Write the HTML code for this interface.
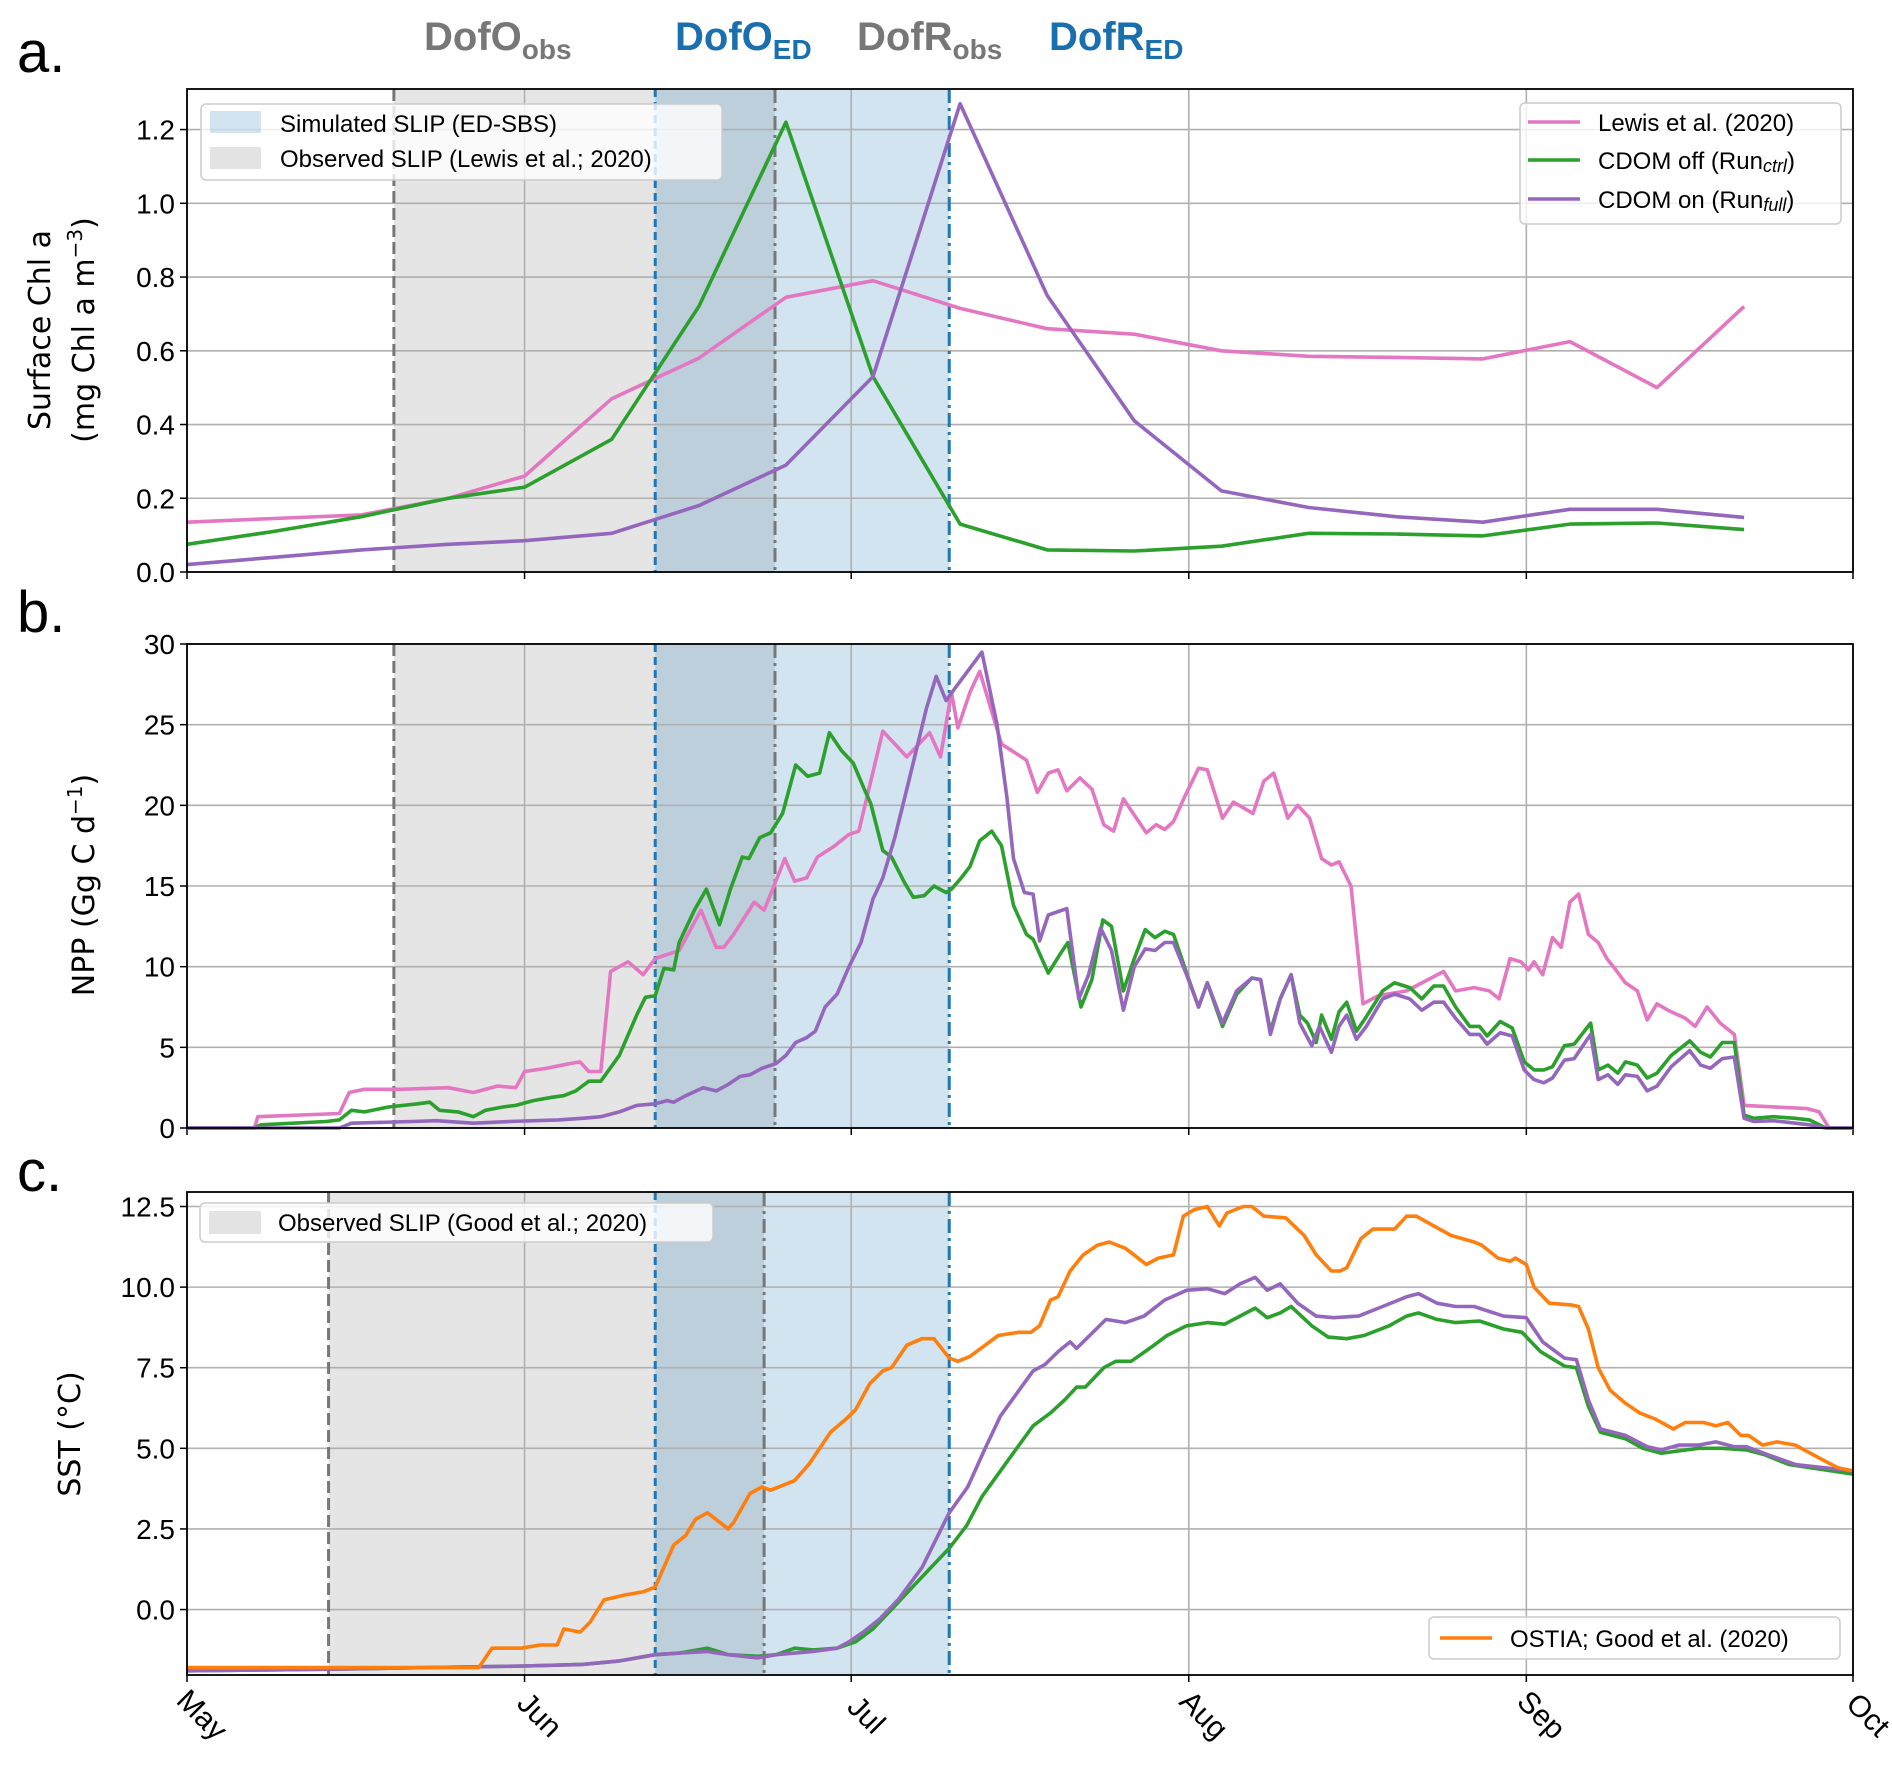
<!DOCTYPE html>
<html><head><meta charset="utf-8"><style>
body{margin:0;background:#fff}
svg{display:block}
.tk{font-family:"Liberation Sans Narrow","Liberation Sans",sans-serif;font-size:28px;fill:#000}
.lg{font-family:"Liberation Sans Narrow","Liberation Sans",sans-serif;font-size:24px;fill:#000}
.yl{font-family:"DejaVu Sans","Liberation Sans",sans-serif;font-size:30px;fill:#000}
.toplab{font-family:"Liberation Sans Narrow","Liberation Sans",sans-serif;font-weight:bold;font-size:40px}
</style></head><body>
<svg id="fig" width="1892" height="1766" viewBox="0 0 1892 1766" xmlns="http://www.w3.org/2000/svg"></svg>
<script>
// ---- data (x = days since 1 May) ----
const monthLabels=["May","Jun","Jul","Aug","Sep","Oct"];
const monthDays=[0,31,61,92,123,153];
const dofOobs=19, dofOed=43, dofRobs=54, dofRed=70, dofOobsC=13, dofRobsC=53;
const chlTicks=[0,0.2,0.4,0.6,0.8,1.0,1.2];
const nppTicks=[0,5,10,15,20,25,30];
const sstTicks=[0,2.5,5,7.5,10,12.5];
const chlDays=[0,8,16,24,31,39,47,55,63,71,79,87,95,103,111,119,127,135,143];
const chlLewis=[.135,.145,.155,.20,.26,.47,.58,.745,.79,.715,.66,.645,.60,.585,.582,.578,.625,.50,.72];
const chlCtrl=[.075,.11,.15,.20,.23,.36,.72,1.22,.53,.13,.06,.057,.07,.105,.103,.098,.13,.133,.115];
const chlFull=[.02,.04,.06,.075,.085,.105,.18,.29,.53,1.27,.75,.41,.22,.175,.15,.135,.17,.17,.148];
const nppLewisD=[0,6.2,6.5,14,14.9,16.3,19.6,24,26.3,28.5,30.2,31,33,35.2,36.1,36.9,38,38.9,40.5,41.9,43,45.2,47.2,48.6,49.3,50.2,52.1,53,53.9,54.9,55.8,56.9,57.9,59.5,60.8,61.7,63.9,66.1,68.2,69.2,70.2,70.8,71.9,72.8,74.8,77.1,78.1,79.1,80,80.8,82,83.1,84.2,85.1,86,86.9,88.1,89,89.8,90.6,91.6,92.9,93.7,95.1,96.1,97.9,98.9,99.8,101.1,102,103.1,104.2,105.1,105.8,106.9,108,109.4,112,115.4,116.5,118.2,119.6,120.5,121.5,122.5,123.2,123.7,124.5,125.4,126.2,127,127.8,128.7,129.6,130.4,131,132.1,133.2,134.1,135,136,137.6,138.5,139.6,140.8,142.1,143,148.8,149.9,150.8,153];
const nppLewisV=[0,0,0.7,0.9,2.2,2.4,2.4,2.5,2.2,2.6,2.5,3.5,3.7,4.0,4.1,3.5,3.5,9.7,10.3,9.5,10.5,11,13.5,11.2,11.2,12,14,13.5,15,16.7,15.3,15.5,16.8,17.5,18.2,18.4,24.6,23,24.5,23,27,24.8,27,28.3,23.8,22.8,20.8,22,22.2,20.9,21.7,21,18.8,18.4,20.4,19.5,18.3,18.8,18.5,19,20.5,22.3,22.2,19.2,20.2,19.5,21.5,22,19.2,20,19.2,16.7,16.3,16.5,15,7.7,8.2,8.5,9.7,8.5,8.7,8.5,8,10.5,10.3,9.8,10.3,9.5,11.8,11.2,14,14.5,12,11.5,10.5,10,9,8.5,6.7,7.7,7.3,6.8,6.3,7.5,6.5,5.8,1.4,1.2,1.0,0,0];
const nppCtrlD=[0,6.2,6.8,12.8,14,15.1,16.3,18.5,21.2,22.3,23.2,24.9,26.3,27.4,29,30.2,31.8,33.5,34.6,35.7,36.9,38,39.7,41.3,42.1,43,43.8,44.7,45.2,46.6,47.7,48.9,49.9,51,51.6,52.6,53.6,54.7,55.9,57,58.1,59,60.1,61.2,62.2,62.8,63.9,64.7,65.9,66.7,67.7,68.6,69.7,70.2,71.1,71.9,72.8,73.9,74.8,75.9,77.1,77.7,79.1,80.2,80.9,82.1,83.1,84.1,84.9,86,87,88,88.9,89.8,90.6,91.8,92.9,93.7,95.1,96.4,97.8,98.6,99.5,100.4,101.4,102.2,102.9,103.7,104.2,105.1,105.8,106.5,107.4,108.3,109.8,110.9,112.3,113.4,114.5,115.4,116.5,117.8,118.7,119.4,120.6,121.7,122.8,123.7,124.6,125.4,126.5,127.4,128.9,129.6,130.5,131.4,132.1,133.2,134.1,135,136.3,138,139,139.9,141,142.1,143,143.9,145.7,147.7,149,150.5,153];
const nppCtrlV=[0,0,0.2,0.4,0.5,1.1,1.0,1.3,1.5,1.6,1.1,1.0,0.7,1.1,1.3,1.4,1.7,1.9,2.0,2.3,2.9,2.9,4.5,7,8.1,8.2,9.9,9.8,11.5,13.5,14.8,12.6,14.8,16.8,16.7,18,18.3,19.5,22.5,21.8,22,24.5,23.4,22.6,21,20.1,17.2,16.8,15.2,14.3,14.4,15,14.6,14.8,15.5,16.2,17.8,18.4,17.5,13.8,12,11.7,9.6,10.8,11.5,7.5,9.2,12.9,12.5,8.5,10.5,12.3,11.8,12.2,12,9.6,7.5,9,6.3,8.3,9.3,9.2,6,8,9.5,7,6.5,5.3,7,5.5,7.2,7.8,6,6.9,8.5,9,8.7,8,8.8,8.8,7.5,6.3,6.3,5.7,6.6,6.2,4.1,3.6,3.6,3.8,5.1,5.2,6.5,3.6,3.9,3.4,4.1,3.9,3.1,3.4,4.5,5.4,4.7,4.4,5.3,5.3,0.8,0.6,0.7,0.6,0.5,0,0];
const nppFullD=[0,14,15.1,20.7,22.9,26.3,29.6,34.1,36.3,38,39.7,41.3,43,44.1,44.7,45.8,47.4,48.6,49.7,50.8,51.7,52.8,54.1,55,55.9,56.9,57.7,58.6,59.7,60.8,61.9,63,63.9,65,66.1,67,67.9,68.8,69.7,70.8,73,74.4,75.3,75.9,76.9,77.7,78.3,79.1,80.8,81.9,82.8,83.9,84.9,86,87,88,88.9,89.8,90.6,91.8,92.9,93.7,95.1,96.4,97.8,98.6,99.5,100.4,101.4,102.2,103.3,104,105.1,105.8,106.5,107.4,108.3,109.8,110.9,112.3,113.4,114.5,115.4,116.5,117.8,118.7,119.4,120.6,121.7,122.8,123.7,124.6,125.4,126.5,127.4,128.9,129.6,130.5,131.4,132.1,133.2,134.1,135,136.3,138,139,139.9,141,142.1,143,143.9,145.7,147.7,149,150.5,153];
const nppFullV=[0,0,0.3,0.4,0.45,0.3,0.4,0.5,0.6,0.7,1.0,1.4,1.5,1.7,1.6,2.0,2.5,2.3,2.7,3.2,3.3,3.7,4.0,4.5,5.3,5.6,6,7.5,8.3,10,11.5,14.2,15.5,18,21,23.5,26,28,26.5,27.5,29.5,25,20.5,16.7,14.6,14.5,11.6,13.2,13.6,8.0,9.5,12.4,11,7.3,10,11.1,11,11.5,11.5,9.5,7.5,9,6.5,8.5,9.3,9.2,5.8,8,9.5,6.5,5.1,6.3,4.7,6.3,7,5.5,6.3,8,8.3,8,7.3,7.8,7.8,6.8,5.8,5.8,5.2,5.9,5.7,3.6,3.0,2.8,3.1,4.2,4.3,5.8,3.0,3.3,2.7,3.3,3.2,2.3,2.6,3.8,4.8,3.9,3.7,4.3,4.4,0.6,0.4,0.45,0.3,0.2,0,0];
const sstObsD=[0,26.8,28,30.7,32.4,34,34.6,36.1,37,38.3,40.2,41.9,43,44.7,45.8,46.7,47.8,49.7,50.2,51.7,52.8,53.6,54.7,55.8,57.1,59.1,60.5,61.4,62.7,63.9,64.7,66.1,67.5,68.6,70,70.8,71.9,73.3,74.5,76.4,77.5,78.3,79.3,80,81.1,82.3,83.6,84.7,86.2,88.1,89.2,90.6,91.5,92.5,93.7,94.8,95.5,97,97.8,98.9,100.9,102.6,103.7,105.1,105.9,106.5,107.8,108.9,110.9,112,112.9,114.5,116.1,118.2,118.9,120.4,121.5,122,123,123.7,125.1,127.1,127.8,128.7,129.6,130.7,132.1,133.4,134.9,136.5,137.6,139.3,140.4,141.5,142.7,143.4,144.7,146,147.7,149.9,151.6,153];
const sstObsV=[-1.8,-1.8,-1.2,-1.2,-1.1,-1.1,-0.6,-0.7,-0.4,0.3,0.45,0.55,0.7,2.0,2.3,2.8,3.0,2.5,2.7,3.6,3.8,3.7,3.85,4.0,4.5,5.5,5.9,6.2,7.0,7.4,7.5,8.2,8.4,8.4,7.8,7.7,7.85,8.2,8.5,8.6,8.6,8.8,9.6,9.7,10.5,11,11.3,11.4,11.2,10.7,10.9,11.0,12.2,12.4,12.5,11.9,12.3,12.5,12.5,12.2,12.15,11.6,11.0,10.5,10.5,10.6,11.5,11.8,11.8,12.2,12.2,11.9,11.6,11.4,11.3,10.9,10.8,10.9,10.7,10,9.5,9.45,9.4,8.7,7.5,6.8,6.4,6.1,5.9,5.6,5.8,5.8,5.7,5.8,5.4,5.4,5.1,5.2,5.1,4.7,4.4,4.3];
const sstCtrlD=[0,13,31,36.3,39.6,43,45.2,47.8,49.7,52.4,54.1,55.8,57.5,59.7,61.4,63,64.7,66.9,70,71.6,73,74.7,76.2,77.7,79.3,80.6,81.7,82.5,84.2,85.3,86.7,88.4,90,91.8,93.7,95.3,96.7,98.1,99.2,100.4,101.4,103.3,104.8,106.5,108.1,110.4,112,113.1,114.8,116.5,118.7,120.9,122.6,124.3,126.5,127.6,128.7,129.8,132.1,133.7,135.4,136.5,138.8,141,143.2,144.9,147.1,153];
const sstCtrlV=[-1.9,-1.85,-1.75,-1.7,-1.6,-1.4,-1.35,-1.2,-1.4,-1.45,-1.4,-1.2,-1.25,-1.2,-1.0,-0.6,0.0,0.8,1.9,2.6,3.5,4.3,5.0,5.7,6.1,6.5,6.9,6.9,7.5,7.7,7.7,8.1,8.5,8.8,8.9,8.85,9.1,9.35,9.05,9.2,9.4,8.8,8.45,8.4,8.5,8.8,9.1,9.2,9.0,8.9,8.95,8.7,8.6,8.0,7.55,7.5,6.3,5.5,5.3,5.0,4.85,4.9,5.0,5.0,4.95,4.8,4.5,4.2];
const sstFullD=[0,13,31,36.3,39.6,43,45.2,47.8,49.7,52.4,54.1,55.8,57.5,59.7,60.8,62.1,63.6,65.3,67.5,70,71.7,73.3,74.7,76.2,77.7,78.8,80,81.1,81.7,82.9,84.4,86.2,87.9,89.8,91.8,93.7,95.3,96.7,98.1,99.2,100.4,102,103.7,105.3,107.6,109.8,112,113.1,114.8,116.5,118.2,120.9,123,124.5,126.5,127.6,128.7,129.8,132.1,134.1,135.4,137,138.8,140.4,142.1,143.2,145.2,147.7,153];
const sstFullV=[-1.9,-1.85,-1.75,-1.7,-1.6,-1.4,-1.35,-1.3,-1.4,-1.5,-1.4,-1.35,-1.3,-1.2,-1.0,-0.7,-0.3,0.3,1.3,3.0,3.8,5.0,6.0,6.7,7.4,7.6,8.0,8.3,8.1,8.5,9.0,8.9,9.1,9.6,9.9,9.95,9.8,10.1,10.3,9.9,10.1,9.5,9.1,9.05,9.1,9.4,9.7,9.8,9.5,9.4,9.4,9.1,9.05,8.3,7.8,7.75,6.5,5.6,5.4,5.05,4.95,5.1,5.1,5.2,5.05,5.05,4.8,4.5,4.3];

const NS="http://www.w3.org/2000/svg";
const svg=document.getElementById('fig');
function el(tag,parent){const e=document.createElementNS(NS,tag);(parent||svg).appendChild(e);return e;}
const X0=187,X1=1853;
function xs(d){return X0+(X1-X0)*d/153;}
const panels={
 a:{top:89,bot:572,min:0,max:1.31},
 b:{top:644,bot:1128,min:0,max:30},
 c:{top:1192,bot:1675,min:-2.03,max:12.95}
};
function ysF(p){return v=>p.bot-(p.bot-p.top)*(v-p.min)/(p.max-p.min);}

function rect(g,x,y,w,h,fill){const r=el('rect',g);r.setAttribute('x',x);r.setAttribute('y',y);r.setAttribute('width',w);r.setAttribute('height',h);r.setAttribute('fill',fill);return r;}
function line(g,x1,y1,x2,y2,stroke,w,dash){const l=el('line',g);l.setAttribute('x1',x1);l.setAttribute('y1',y1);l.setAttribute('x2',x2);l.setAttribute('y2',y2);l.setAttribute('stroke',stroke);l.setAttribute('stroke-width',w);if(dash)l.setAttribute('stroke-dasharray',dash);return l;}
function text(g,x,y,s,cls,anchor){const t=el('text',g);t.setAttribute('x',x);t.setAttribute('y',y);t.setAttribute('class',cls);if(anchor)t.setAttribute('text-anchor',anchor);t.textContent=s;return t;}

function drawPanel(key,ticks,fmt,obsStart,obsEnd){
 const p=panels[key], ys=ysF(p);
 const g=el('g');
 
 
 const gs=rect(g,xs(obsStart),p.top,xs(obsEnd)-xs(obsStart),p.bot-p.top,'#e5e5e5');
 
 
 const bs=rect(g,xs(dofOed),p.top,xs(dofRed)-xs(dofOed),p.bot-p.top,'rgba(31,119,180,0.2)');
 
 
 ticks.forEach(t=>{const l=line(g,X0,ys(t),X1,ys(t),'#b0b0b0',1.6);
  
  });
 monthDays.forEach(d=>{const l=line(g,xs(d),p.top,xs(d),p.bot,'#b0b0b0',1.6);
  
  });
 const v1=line(g,xs(obsStart),p.top,xs(obsStart),p.bot,'#777',3,'12,5');
 
 
 const v2=line(g,xs(dofOed),p.top,xs(dofOed),p.bot,'#1f77b4',3,'8,5');
 
 
 const v3=line(g,xs(obsEnd),p.top,xs(obsEnd),p.bot,'#777',3,'14,5,3,5');
 
 
 const v4=line(g,xs(dofRed),p.top,xs(dofRed),p.bot,'#1f77b4',3,'14,5,3,5');
 
 
 ticks.forEach(t=>{line(g,X0-7,ys(t),X0,ys(t),'#000',1.5);
  const tt=text(g,X0-12,ys(t)+10,fmt(t),'tk','end');
  
  });
 monthDays.forEach(d=>line(g,xs(d),p.bot,xs(d),p.bot+7,'#000',1.5));
 return {g,ys,p};
}
function series(P,days,vals,color,name){
 const n=Math.min(days.length,vals.length);
 const pts=[];
 for(let i=0;i<n;i++){pts.push(xs(days[i]).toFixed(1)+','+P.ys(vals[i]).toFixed(1));}
 const pl=el('polyline',P.g);
 pl.setAttribute('points',pts.join(' '));
 pl.setAttribute('fill','none');pl.setAttribute('stroke',color);pl.setAttribute('stroke-width',3.6);
 pl.setAttribute('stroke-linejoin','round');
 
 
}
function frame(P){const r=el('rect',P.g);r.setAttribute('x',X0);r.setAttribute('y',P.p.top);r.setAttribute('width',X1-X0);r.setAttribute('height',P.p.bot-P.p.top);r.setAttribute('fill','none');r.setAttribute('stroke','#000');r.setAttribute('stroke-width',1.8);
 
 }

const PINK='#e377c2',GREEN='#2ca02c',PURP='#9467bd',ORNG='#ff7f0e';
const A=drawPanel('a',chlTicks,t=>t.toFixed(1),dofOobs,dofRobs);
series(A,chlDays,chlLewis,PINK,'chl-lewis-line');
series(A,chlDays,chlCtrl,GREEN,'chl-cdom-off-line');
series(A,chlDays,chlFull,PURP,'chl-cdom-on-line');
frame(A);
const B=drawPanel('b',nppTicks,t=>String(t),dofOobs,dofRobs);
series(B,nppLewisD,nppLewisV,PINK,'npp-lewis-line');
series(B,nppCtrlD,nppCtrlV,GREEN,'npp-cdom-off-line');
series(B,nppFullD,nppFullV,PURP,'npp-cdom-on-line');
frame(B);
const C=drawPanel('c',sstTicks,t=>t.toFixed(1),dofOobsC,dofRobsC);
series(C,sstCtrlD,sstCtrlV,GREEN,'sst-cdom-off-line');
series(C,sstFullD,sstFullV,PURP,'sst-cdom-on-line');
series(C,sstObsD,sstObsV,ORNG,'sst-ostia-line');
frame(C);

monthLabels.forEach((m,i)=>{
 const t=text(svg,0,0,m,'tk','middle');
 t.setAttribute('transform','translate('+(xs(monthDays[i])+8)+','+1722+') rotate(45)');
 t.setAttribute('style','font-size:30px');
 
 
});

function legendBox(x,y,w,h,name){const r=el('rect');r.setAttribute('x',x);r.setAttribute('y',y);r.setAttribute('width',w);r.setAttribute('height',h);r.setAttribute('rx',5);r.setAttribute('fill','rgba(255,255,255,0.8)');r.setAttribute('stroke','#ccc');r.setAttribute('stroke-width',1.5);
 
 }
legendBox(201,104,521,76,'shade-legend-a');
rect(svg,210,111,51,22,'rgba(31,119,180,0.2)');
text(svg,280,132,'Simulated SLIP (ED-SBS)','lg');
rect(svg,210,147,51,22,'#e3e3e3');
text(svg,280,167,'Observed SLIP (Lewis et al.; 2020)','lg');
legendBox(1520,103,321,121,'series-legend-a');
line(svg,1528,122,1580,122,PINK,3.6);
text(svg,1598,131,'Lewis et al. (2020)','lg');
line(svg,1528,160,1580,160,GREEN,3.6);
const t2=text(svg,1598,169,'','lg');t2.innerHTML='CDOM off (Run<tspan font-style="italic" font-size="18" dy="3">ctrl</tspan><tspan dy="-3">)</tspan>';
line(svg,1528,199,1580,199,PURP,3.6);
const t3=text(svg,1598,208,'','lg');t3.innerHTML='CDOM on (Run<tspan font-style="italic" font-size="18" dy="3">full</tspan><tspan dy="-3">)</tspan>';
legendBox(200,1203,513,39,'shade-legend-c');
rect(svg,209,1211,52,23,'#e3e3e3');
text(svg,278,1231,'Observed SLIP (Good et al.; 2020)','lg');
legendBox(1429,1617,411,42,'ostia-legend');
line(svg,1440,1638,1492,1638,ORNG,3.6);
text(svg,1510,1647,'OSTIA; Good et al. (2020)','lg');

function ylab(x,y,s,name){const t=text(svg,0,0,s,'yl','middle');t.setAttribute('transform','translate('+x+','+y+') rotate(-90)');
 
 return t;}
ylab(50,330,'Surface Chl a','y-axis-title-a');
const yl2=ylab(94,330,'','y-axis-title-a-units');yl2.innerHTML='(mg Chl a m<tspan font-size="20" dy="-12">−3</tspan><tspan dy="12">)</tspan>';
const yl3=ylab(94,885,'','y-axis-title-b');yl3.innerHTML='NPP (Gg C d<tspan font-size="20" dy="-12">−1</tspan><tspan dy="12">)</tspan>';
ylab(80,1434,'SST (°C)','y-axis-title-c');

[['a.',92],['b.',652],['c.',1211]].forEach(([s,y])=>{const t=text(svg,17,y-20,s,'yl');t.setAttribute('style','font-size:58px;font-family:"Liberation Sans",sans-serif');
 
 });
function topLabel(x,main,sub,color,name){const t=text(svg,x,50,'','toplab');t.setAttribute('fill',color);t.innerHTML=main+'<tspan font-size="28" dy="9">'+sub+'</tspan>';
 
 }
topLabel(424,'DofO','obs','#777777','dofo-obs-label');
topLabel(675,'DofO','ED','#1a6faf','dofo-ed-label');
topLabel(857,'DofR','obs','#777777','dofr-obs-label');
topLabel(1049,'DofR','ED','#1a6faf','dofr-ed-label');
</script>
</body></html>
